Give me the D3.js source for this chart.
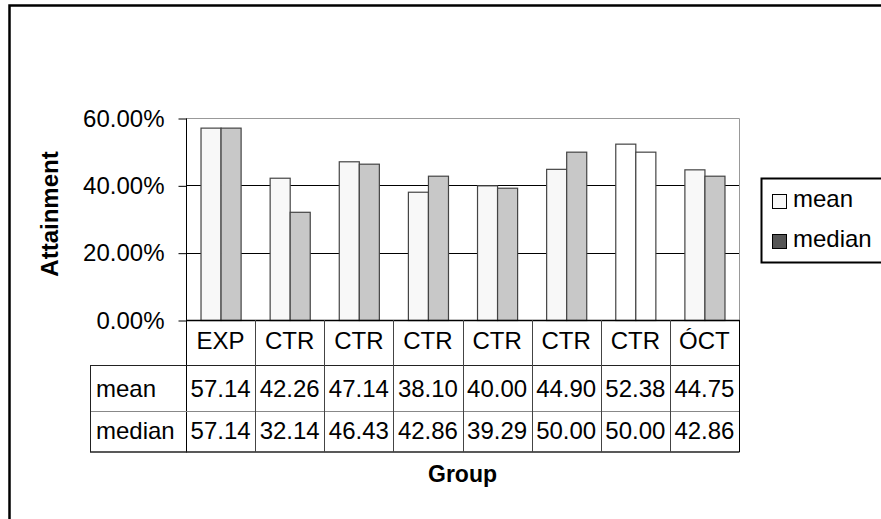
<!DOCTYPE html>
<html>
<head>
<meta charset="utf-8">
<script src="https://cdn.jsdelivr.net/npm/d3@7"></script>
<style>
  body { margin: 0; background: #fff; }
  svg { display: block; font-family: Arial, 'Liberation Sans', sans-serif; }
</style>
</head>
<body>
<div id="chart"></div>
<script>
// data
let groups = ['EXP', 'CTR', 'CTR', 'CTR', 'CTR', 'CTR', 'CTR', 'ÓCT']
let meanVals = [57.14, 42.26, 47.14, 38.10, 40.00, 44.90, 52.38, 44.75]
let medianVals = [57.14, 32.14, 46.43, 42.86, 39.29, 50.00, 50.00, 42.86]
let seriesNames = ['mean', 'median']
let yTicks = [0, 20, 40, 60]

let w = 881,
    h = 519,
    fs = 24

let plotL = 186, plotR = 739, plotT = 118, plotB = 320
let rowLines = [365.5, 411.5, 452]
let rowBase = [349, 397, 439]
let labelColX = 90

let svg = d3.select('#chart')
    .append('svg')
    .attr('width', w)
    .attr('height', h)

// outer frame (runs off the right / bottom)
svg.append('rect')
    .attr('x', 9.5).attr('y', 5.5)
    .attr('width', 1000).attr('height', 1000)
    .attr('fill', 'none')
    .attr('stroke', '#000')
    .attr('stroke-width', 2.5)

let x = d3.scaleBand()
    .domain(d3.range(groups.length))
    .range([plotL, plotR])
    .paddingInner(0.42)
    .paddingOuter(0.21)

let xStep = d3.scaleBand()
    .domain(d3.range(groups.length))
    .range([plotL, plotR])

let xSub = d3.scaleBand()
    .domain(seriesNames)
    .range([0, x.bandwidth()])

let y = d3.scaleLinear()
    .domain([0, 60])
    .range([plotB, plotT])

// plot border (grey top / right)
svg.append('path')
    .attr('d', `M${plotL},${plotT + 0.5}H${plotR + 0.5}V${plotB}`)
    .attr('fill', 'none')
    .attr('stroke', '#999')

// gridlines
svg.selectAll('.grid')
    .data(yTicks.filter(d => d > 0 && d < 60))
    .enter()
    .append('line')
    .attr('x1', plotL).attr('x2', plotR)
    .attr('y1', d => Math.round(y(d)) + 0.5)
    .attr('y2', d => Math.round(y(d)) + 0.5)
    .attr('stroke', '#000')

// y axis
let yAxis = d3.axisLeft(y)
    .tickValues(yTicks)
    .tickSize(8)
    .tickPadding(14)
    .tickFormat(d => d3.format('.2f')(d) + '%')

let yg = svg.append('g')
    .attr('transform', `translate(${plotL + 0.5},0.5)`)
    .call(yAxis)
yg.select('.domain').attr('stroke', '#000').attr('d', `M0,${plotT}V${rowLines[2]}`)
yg.selectAll('text')
    .attr('font-size', fs)
    .attr('font-family', 'Arial, Liberation Sans, sans-serif')
    .attr('fill', '#000')

// bars
let fillFor = (s, i) => i === 6 ? '#fff' : s === 'mean' ? '#f8f8f8' : '#c8c8c8'
let barData = []
groups.forEach((g, i) => {
    barData.push({ i: i, s: 'mean', v: meanVals[i] })
    barData.push({ i: i, s: 'median', v: medianVals[i] })
})

svg.selectAll('rect.bar')
    .data(barData)
    .enter()
    .append('rect')
    .attr('class', 'bar')
    .attr('x', d => x(d.i) + xSub(d.s) + 0.5)
    .attr('y', d => y(d.v) + 0.5)
    .attr('width', xSub.bandwidth())
    .attr('height', d => plotB - y(d.v))
    .attr('fill', d => fillFor(d.s, d.i))
    .attr('stroke', '#444')
    .attr('stroke-width', 1.2)

// x axis line
svg.append('line')
    .attr('x1', plotL).attr('x2', plotR + 0.5)
    .attr('y1', plotB + 0.5).attr('y2', plotB + 0.5)
    .attr('stroke', '#000')
    .attr('stroke-width', 1.5)

// data table
let tbl = svg.append('g')

// horizontal rules
tbl.selectAll('line.h')
    .data(rowLines)
    .enter()
    .append('line')
    .attr('x1', labelColX).attr('x2', plotR + 0.5)
    .attr('y1', d => d).attr('y2', d => d)
    .attr('stroke', (d, i) => i === 1 ? '#888' : '#222')
    .attr('stroke-width', (d, i) => i === 2 ? 1.3 : 1)

// vertical rules
tbl.selectAll('line.v')
    .data(d3.range(1, groups.length + 1))
    .enter()
    .append('line')
    .attr('x1', d => Math.round(d < groups.length ? xStep(d) : plotR) + 0.5)
    .attr('x2', d => Math.round(d < groups.length ? xStep(d) : plotR) + 0.5)
    .attr('y1', plotB)
    .attr('y2', rowLines[2])
    .attr('stroke', (d) => d === groups.length ? '#000' : '#444')

tbl.append('line')
    .attr('x1', labelColX + 0.5).attr('x2', labelColX + 0.5)
    .attr('y1', rowLines[0]).attr('y2', rowLines[2])
    .attr('stroke', '#222')

// header row: group names
tbl.selectAll('text.cat')
    .data(groups)
    .enter()
    .append('text')
    .text(d => d)
    .attr('x', (d, i) => xStep(i) + xStep.bandwidth() / 2)
    .attr('y', rowBase[0])
    .attr('text-anchor', 'middle')
    .attr('font-size', fs)

// value rows
;[meanVals, medianVals].forEach((vals, r) => {
    tbl.append('text')
        .text(seriesNames[r])
        .attr('x', 96)
        .attr('y', rowBase[r + 1])
        .attr('font-size', fs)
    tbl.selectAll('text.v' + r)
        .data(vals)
        .enter()
        .append('text')
        .attr('class', 'v' + r)
        .text(d => d3.format('.2f')(d))
        .attr('x', (d, i) => xStep(i) + xStep.bandwidth() / 2)
        .attr('y', rowBase[r + 1])
        .attr('text-anchor', 'middle')
        .attr('font-size', fs)
})

// axis titles
svg.append('text')
    .text('Attainment')
    .attr('transform', 'translate(58,214) rotate(-90)')
    .attr('text-anchor', 'middle')
    .attr('font-weight', 'bold')
    .attr('font-size', fs)

svg.append('text')
    .text('Group')
    .attr('x', (plotL + plotR) / 2)
    .attr('y', 482)
    .attr('text-anchor', 'middle')
    .attr('font-weight', 'bold')
    .attr('font-size', 23)

// legend (cut by the right edge)
let lg = svg.append('g')
lg.append('rect')
    .attr('x', 761.5).attr('y', 178.5)
    .attr('width', 200).attr('height', 84)
    .attr('fill', '#fff')
    .attr('stroke', '#000')
    .attr('stroke-width', 2)

let legendFill = ['#f8f8f8', '#555']
lg.selectAll('rect.sw')
    .data(seriesNames)
    .enter()
    .append('rect')
    .attr('class', 'sw')
    .attr('x', 772.5)
    .attr('y', (d, i) => 194.5 + i * 40)
    .attr('width', 14).attr('height', 14)
    .attr('fill', (d, i) => legendFill[i])
    .attr('stroke', '#000')
lg.selectAll('text.lt')
    .data(seriesNames)
    .enter()
    .append('text')
    .attr('class', 'lt')
    .text(d => d)
    .attr('x', 793)
    .attr('y', (d, i) => 207 + i * 40)
    .attr('font-size', fs)
</script>
</body>
</html>
